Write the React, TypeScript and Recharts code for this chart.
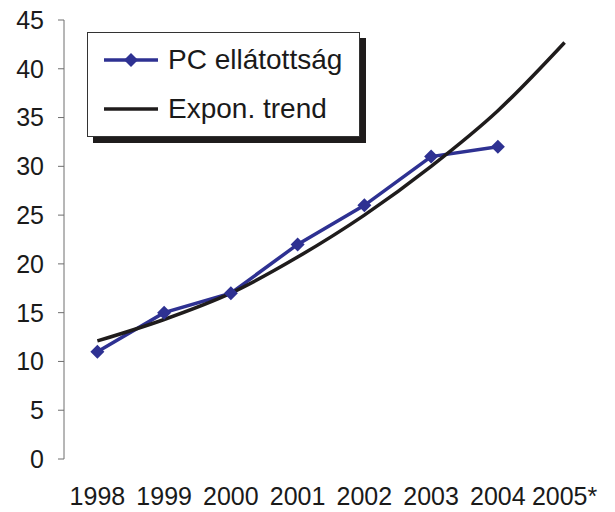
import { CartesianGrid, Legend, Line, LineChart, XAxis, YAxis } from "recharts";

const years = ["1998", "1999", "2000", "2001", "2002", "2003", "2004", "2005*"];
const pcSupply = [11, 15, 17, 22, 26, 31, 32, null];
const expTrend = [12.1, 14.3, 17.0, 20.7, 25.0, 30.0, 35.7, 42.7];
const yTicks = [0, 5, 10, 15, 20, 25, 30, 35, 40, 45];
const yearBounds = [0, 1, 2, 3, 4, 5, 6, 7, 8];

const PC_NAME = "PC ellátottság";
const TREND_NAME = "Expon. trend";
const legendOrder = [PC_NAME, TREND_NAME];
const BLUE = "#2e3192";
const BLACK = "#1f1c1c";
const AXIS = "#6e6e6e";

const data = years.map((year, i) => ({
  year,
  slot: i + 0.5,
  pc: pcSupply[i],
  trend: expTrend[i],
}));

function diamond(cx: number, cy: number, r: number) {
  return `M${cx},${cy - r}L${cx + r},${cy}L${cx},${cy + r}L${cx - r},${cy}Z`;
}

function DiamondDot(props: any) {
  const { cx, cy, index } = props;
  if (cx == null || cy == null) return <g key={`d-${index}`} />;
  return <path key={`d-${index}`} d={diamond(cx, cy, 7)} fill={BLUE} />;
}

function LegendBox({ payload }: any) {
  const items = [...(payload || [])].sort(
    (a: any, b: any) => legendOrder.indexOf(a.value) - legendOrder.indexOf(b.value)
  );
  return (
    <div
      style={{
        width: 271,
        height: 103,
        border: "1px solid #333",
        background: "#fff",
        boxShadow: "6px 6px 0 #1f1c1c",
        position: "relative",
      }}
    >
      {items.map((p: any, i: number) => (
        <div
          key={p.value}
          style={{
            position: "absolute",
            left: 0,
            top: i === 0 ? 8 : 57,
            height: 38,
            display: "flex",
            alignItems: "center",
          }}
        >
          <svg width={80} height={38}>
            <line x1={16} x2={70} y1={19} y2={19} stroke={p.color} strokeWidth={3.5} />
            {p.value === PC_NAME && <path d={diamond(43, 19, 7)} fill={p.color} />}
          </svg>
          <span style={{ fontSize: 28, color: "#1a1a1a", whiteSpace: "nowrap" }}>{p.value}</span>
        </div>
      ))}
    </div>
  );
}

export default function App() {
  return (
    <div
      style={{
        position: "absolute",
        left: 0,
        top: 0,
        width: 615,
        height: 512,
        background: "#fff",
        fontFamily: "Arial, 'Liberation Sans', sans-serif",
      }}
    >
      <LineChart width={615} height={512} data={data} margin={{ top: 20, right: 17, bottom: 0, left: 0 }}>
        <CartesianGrid stroke="none" />
        <XAxis
          xAxisId="bounds"
          dataKey="slot"
          type="number"
          domain={[0, 8]}
          ticks={yearBounds}
          height={0}
          stroke={AXIS}
          tickSize={6}
          tickFormatter={() => ""}
        />
        <XAxis
          xAxisId="years"
          dataKey="year"
          height={53}
          padding={{ left: 33.4, right: 33.4 }}
          axisLine={false}
          tickLine={false}
          tickSize={0}
          tickMargin={28}
          interval={0}
          tick={{ fontSize: 25, fill: "#1a1a1a" }}
        />
        <YAxis
          width={64}
          domain={[0, 45]}
          ticks={yTicks}
          interval={0}
          stroke={AXIS}
          tickSize={6}
          tickMargin={14}
          tick={{ fontSize: 25, fill: "#1a1a1a" }}
        />
        <Legend
          content={<LegendBox />}
          layout="vertical"
          align="center"
          verticalAlign="middle"
          wrapperStyle={{ left: 87, top: 32, width: 280 }}
        />
        <Line
          xAxisId="years"
          name={PC_NAME}
          dataKey="pc"
          stroke={BLUE}
          strokeWidth={3.5}
          dot={<DiamondDot />}
          activeDot={false}
          isAnimationActive={false}
        />
        <Line
          xAxisId="years"
          name={TREND_NAME}
          dataKey="trend"
          type="monotone"
          stroke={BLACK}
          strokeWidth={3.5}
          dot={false}
          activeDot={false}
          isAnimationActive={false}
        />
      </LineChart>
    </div>
  );
}
